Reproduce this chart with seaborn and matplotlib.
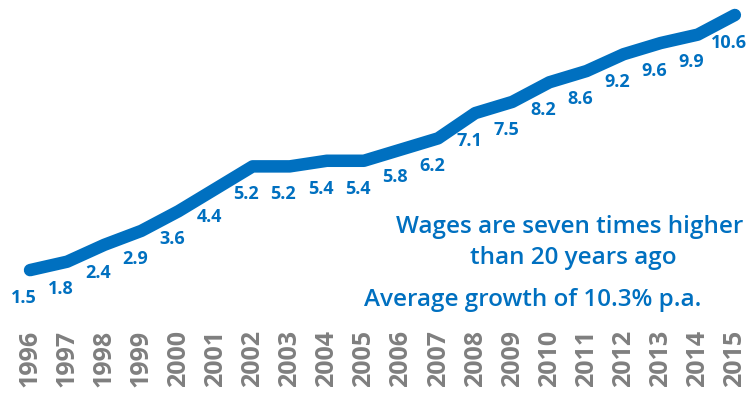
import pandas as pd
import matplotlib.pyplot as plt
import seaborn as sns

sns.set_theme(style="white")
plt.rcParams["font.family"] = ["Open Sans", "DejaVu Sans"]

years = list(range(1996, 2016))
wages = [1.5, 1.8, 2.4, 2.9, 3.6, 4.4, 5.2, 5.2, 5.4, 5.4,
         5.8, 6.2, 7.1, 7.5, 8.2, 8.6, 9.2, 9.6, 9.9, 10.6]
note_lines = ["Wages are seven times higher", "than 20 years ago"]
growth_note = "Average growth of 10.3% p.a."

BLUE = "#0070C0"
GREY = "#7F7F7F"

df = pd.DataFrame({"year": years, "wage": wages})

fig = plt.figure(figsize=(7.56, 3.94), dpi=100)
ax = fig.add_axes([0, 74 / 394, 1, 320 / 394])

sns.lineplot(data=df, x="year", y="wage", ax=ax, color=BLUE, linewidth=9,
             solid_joinstyle="round", solid_capstyle="round")

# value labels under each point
for x, y in zip(years, wages):
    ax.annotate(f"{y:.1f}", (x, y), xytext=(-4.5, -20), textcoords="offset points",
                ha="center", va="center", color=BLUE, fontsize=13, fontweight="bold")

ax.set_xlim(1995.19, 2015.57)
ax.set_ylim(-0.28, 11.135)
ax.set_xticks(years)
ax.set_xticklabels([str(y) for y in years], rotation=90, color=GREY,
                   fontsize=18, fontweight="bold")
ax.tick_params(axis="x", length=0, pad=7)
ax.set_yticks([])
ax.set_xlabel("")
ax.set_ylabel("")
sns.despine(ax=ax, left=True, bottom=True)
ax.patch.set_alpha(0)

fig.text(0.754, 0.424, note_lines[0], ha="center", va="center", color=BLUE,
         fontsize=17.5, fontweight="semibold")
fig.text(0.758, 0.345, note_lines[1], ha="center", va="center", color=BLUE,
         fontsize=17.5, fontweight="semibold")
fig.text(0.705, 0.239, growth_note, ha="center", va="center", color=BLUE,
         fontsize=17.5, fontweight="semibold")

fig.savefig("out.png", dpi=100)
